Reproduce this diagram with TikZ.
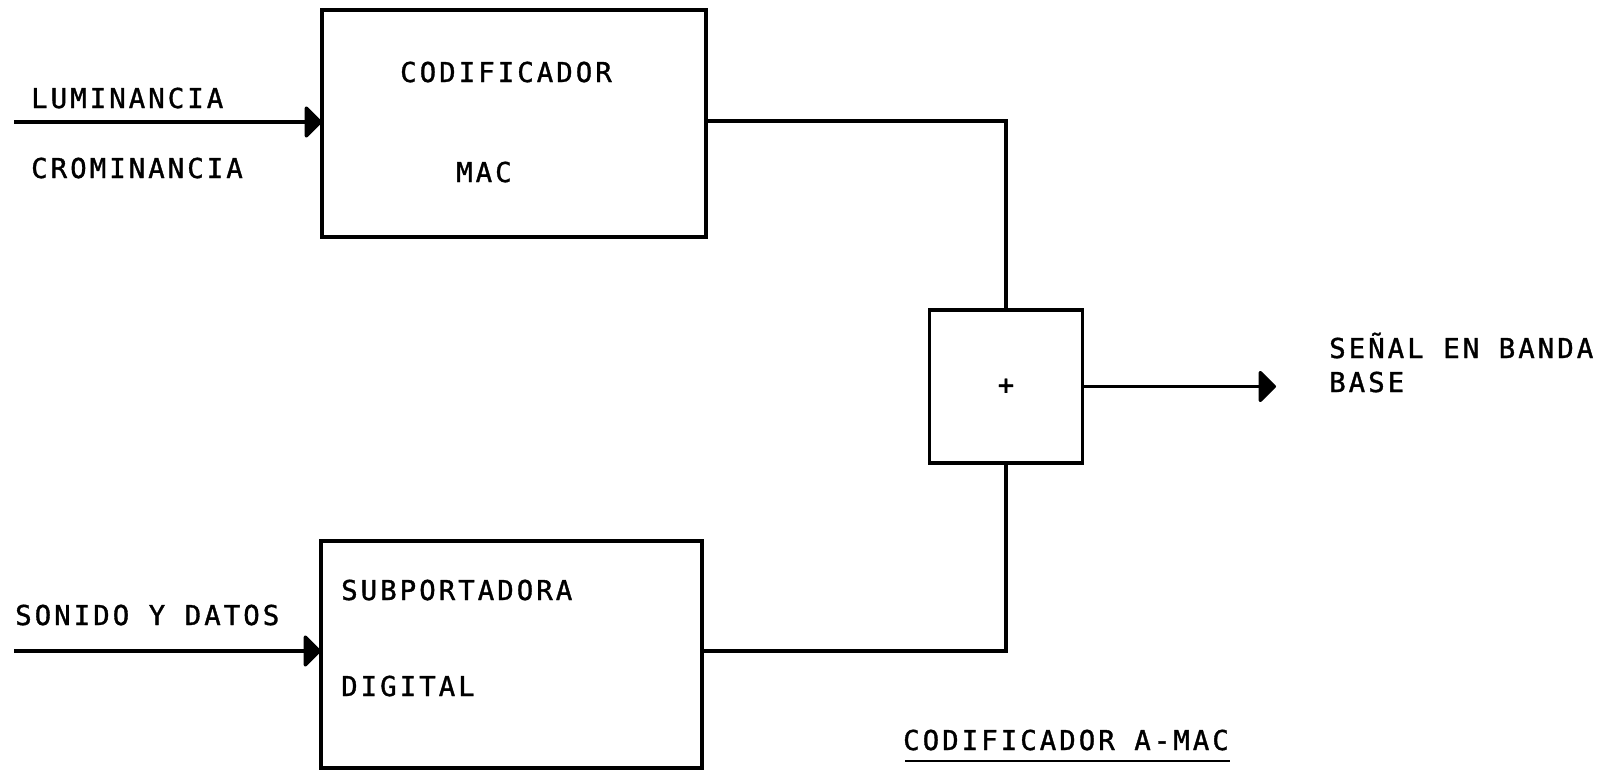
\documentclass[tikz,border=0pt]{standalone}
\usepackage{fontspec}
\usetikzlibrary{arrows.meta}
\newfontfamily\twfont[LetterSpace=11,FakeBold=1.2]{DejaVu Sans Mono}
\begin{document}
\begin{tikzpicture}[x=1pt,y=-1pt,
  blk/.style={draw,line width=3.2pt,minimum width=#1,outer sep=0pt,inner sep=0pt},
  wire/.style={line width=3.2pt},
  arr/.style={line width=3.2pt,-{Triangle[length=18pt,width=35pt,round]}},
  lbl/.style={anchor=west,inner sep=0pt,text height=20pt,text depth=0pt,font=\twfont\fontsize{27.4}{30}\selectfont}]
\useasboundingbox (0,0) rectangle (1616,771);
\fill[white] (0,0) rectangle (1616,771);
% blocks
\node[blk=384pt,minimum height=227pt] (top) at (514,123.5) {};
\node[blk=381pt,minimum height=227pt] (bot) at (511.5,654.5) {};
\node[blk=153pt,minimum height=153pt,font=\twfont\fontsize{27.4}{30}\selectfont] (plus) at (1006,386.5) {+};
% coordinates
\coordinate (in1) at (14,122);
\coordinate (in2) at (14,651);
\coordinate (o1) at (1006,121);
\coordinate (o2) at (1006,651);
\coordinate (out) at (1276,386.5);
% connectors
\draw[arr] (in1) -- (in1 -| top.west);
\draw[arr] (in2) -- (in2 -| bot.west);
\draw[wire] (top.east |- o1) -- (o1) -- (plus.north);
\draw[wire] (bot.east |- o2) -- (o2) -- (plus.south);
\draw[arr] (plus.east) -- (out);
% labels
\node[lbl] (lum) at (31,98) {LUMINANCIA};
\node[lbl] (cro) at (31,168) {CROMINANCIA};
\node[lbl] (son) at (15,615) {SONIDO Y DATOS};
\node[lbl] (cod) at (400,72) {CODIFICADOR};
\node[lbl] (mac) at (456,172) {MAC};
\node[lbl] (sub) at (341,590) {SUBPORTADORA};
\node[lbl] (dig) at (341,686) {DIGITAL};
\node[lbl] (sen) at (1329,348) {SEÑAL EN BANDA};
\node[lbl] (bas) at (1329,382) {BASE};
\node[lbl] (tit) at (903,740) {CODIFICADOR A-MAC};
\draw[line width=2.5pt] (905,761) -- (1230,761);
\end{tikzpicture}
\end{document}
